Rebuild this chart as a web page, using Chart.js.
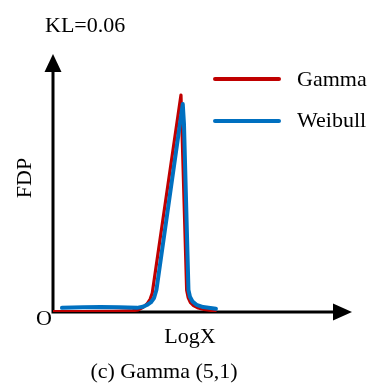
<!DOCTYPE html>
<html>
<head>
<meta charset="utf-8">
<script src="https://cdn.jsdelivr.net/npm/chart.js@4"></script>
<style>
  body { margin: 0; background: #fff; }
  #wrap { position: relative; width: 373px; height: 385px; }
  #wrap canvas { position: absolute; left: 0; top: 0; }
  .lbl { position: absolute; font-family: "Liberation Serif", "Times New Roman", serif; font-size: 22px; line-height: 22px; color: #000; white-space: nowrap; }
  .swatch { position: absolute; height: 4px; border-radius: 2px; }
</style>
</head>
<body>
<div id="wrap">
  <canvas id="pdfChart" width="373" height="385"></canvas>
  <div class="lbl" style="left:45px; top:13.6px;">KL=0.06</div>
  <div class="lbl" style="left:24.3px; top:177.5px; transform: translate(-50%,-50%) rotate(-90deg);">FDP</div>
  <div class="lbl" style="left:36px; top:306.6px;">O</div>
  <div class="lbl" style="left:190px; top:324.6px; transform: translateX(-50%);">LogX</div>
  <div class="lbl" style="left:164px; top:359.6px; transform: translateX(-50%);">(c) Gamma (5,1)</div>
  <div id="legend"></div>
</div>
<script>
// values (x in % of axis length, y in % of axis height)
var seriesNames = ["Gamma", "Weibull"];
var seriesColors = ["#c00000", "#0070c0"];

var gammaX = [0, 10, 20, 26, 28.5, 30.1, 31.5, 32.5, 33.2, 42.8, 44.7, 45.2, 46.0, 47.0, 48.3, 50.5, 54.2];
var gammaY = [0.2, 0.2, 0.3, 0.4, 0.8, 1.8, 3.2, 5.0, 7.4, 84.1, 8.5, 5.6, 3.6, 2.5, 1.7, 1.0, 0.4];

var weibullX = [3, 10, 16, 22, 28.1, 30, 31.4, 32.7, 33.8, 34.6, 43.4, 43.8, 45.3, 45.8, 46.7, 48.0, 50.2, 54.5];
var weibullY = [1.6, 1.8, 1.9, 1.8, 1.6, 2.0, 2.7, 3.7, 5.4, 8.6, 80.6, 73, 8.6, 5.9, 4.0, 2.8, 1.9, 1.3];

function toPoints(xs, ys) {
  var pts = [];
  for (let i = 0; i < xs.length; i++) {
    pts.push({x: xs[i], y: ys[i]});
  }
  return pts;
}

// axes with arrow heads, drawn under the curves
var arrowAxes = {
  id: 'arrowAxes',
  beforeDatasetsDraw: function(chart) {
    var ctx = chart.ctx;
    var a = chart.chartArea;
    ctx.save();
    ctx.strokeStyle = '#000';
    ctx.fillStyle = '#000';
    ctx.lineWidth = 3;
    ctx.beginPath();
    ctx.moveTo(a.left, a.bottom);
    ctx.lineTo(a.left, a.top + 16);
    ctx.moveTo(a.left - 1.5, a.bottom);
    ctx.lineTo(a.right - 18, a.bottom);
    ctx.stroke();
    // y arrow
    ctx.beginPath();
    ctx.moveTo(a.left, a.top);
    ctx.lineTo(a.left - 8.5, a.top + 18);
    ctx.lineTo(a.left + 8.5, a.top + 18);
    ctx.closePath();
    ctx.fill();
    // x arrow
    ctx.beginPath();
    ctx.moveTo(a.right, a.bottom);
    ctx.lineTo(a.right - 19, a.bottom - 8.5);
    ctx.lineTo(a.right - 19, a.bottom + 8.5);
    ctx.closePath();
    ctx.fill();
    ctx.restore();
  }
};

new Chart(document.querySelector('#pdfChart'), {
  type: 'line',
  data: {
    datasets: [{
      label: seriesNames[0],
      data: toPoints(gammaX, gammaY),
      borderColor: seriesColors[0],
      borderWidth: 3.2,
      order: 1
    }, {
      label: seriesNames[1],
      data: toPoints(weibullX, weibullY),
      borderColor: seriesColors[1],
      borderWidth: 4,
      order: 0
    }]
  },
  options: {
    responsive: false,
    animation: false,
    layout: { padding: { left: 53, right: 21, top: 54, bottom: 73 } },
    elements: {
      point: { radius: 0 },
      line: { tension: 0, borderCapStyle: 'round', borderJoinStyle: 'round', fill: false }
    },
    scales: {
      x: { type: 'linear', min: 0, max: 100, display: false },
      y: { min: 0, max: 100, display: false }
    },
    plugins: { legend: { display: false }, tooltip: { enabled: false } }
  },
  plugins: [arrowAxes]
});

// legend built from the series names and colours
var legendHtml = "";
var legendTops = [79.3, 121];
for (let i = 0; i < seriesNames.length; i++) {
  legendHtml += "<div class='swatch' style='left:212.7px; width:68px; top:" + (legendTops[i] - 2) + "px; background:" + seriesColors[i] + "'></div>"
    + "<div class='lbl' style='left:297px; top:" + (legendTops[i] + 6.7 - 18.4) + "px;'>" + seriesNames[i] + "</div>";
}
document.getElementById("legend").innerHTML = legendHtml;
</script>
</body>
</html>
